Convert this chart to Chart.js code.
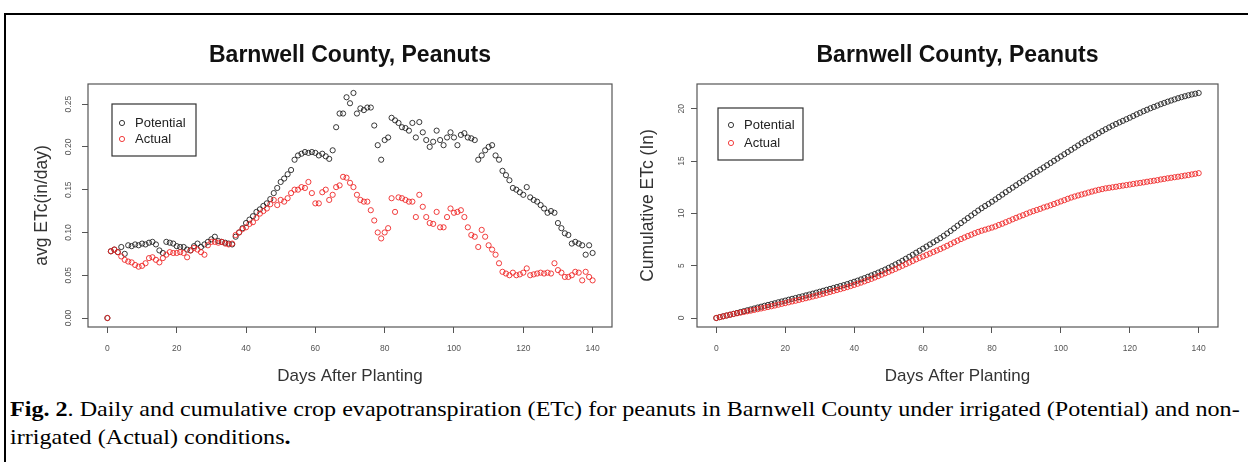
<!DOCTYPE html>
<html><head><meta charset="utf-8">
<script src="https://cdn.jsdelivr.net/npm/chart.js@4.4.1/dist/chart.umd.min.js"></script>
<style>
html,body{margin:0;padding:0;background:#fff;width:1248px;height:462px;overflow:hidden;position:relative;}
#frame{position:absolute;left:4px;top:13px;width:1260px;height:470px;border:2px solid #000;box-sizing:border-box;}
#c1{position:absolute;left:0;top:14px;width:625px;height:380px;}
#c2{position:absolute;left:630px;top:14px;width:618px;height:380px;}
#cap{position:absolute;left:10px;top:395px;font-family:"Liberation Serif","Times New Roman",serif;font-size:22px;line-height:28px;color:#000;white-space:nowrap;transform:scaleX(1.096);transform-origin:0 0;}
</style></head><body>
<div id="frame"></div>
<canvas id="c1" width="625" height="380"></canvas>
<canvas id="c2" width="618" height="380"></canvas>
<div id="cap"><b>Fig. 2</b>. Daily and cumulative crop evapotranspiration (ETc) for peanuts in Barnwell County under irrigated (Potential) and non-<br>irrigated (Actual) conditions<b>.</b></div>
<script>
// ---------- data ----------
const days = [0,1,2,3,4,5,6,7,8,9,10,11,12,13,14,15,16,17,18,19,20,21,22,23,24,25,26,27,28,29,30,31,32,33,34,35,36,37,38,39,40,41,42,43,44,45,46,47,48,49,50,51,52,53,54,55,56,57,58,59,60,61,62,63,64,65,66,67,68,69,70,71,72,73,74,75,76,77,78,79,80,81,82,83,84,85,86,87,88,89,90,91,92,93,94,95,96,97,98,99,100,101,102,103,104,105,106,107,108,109,110,111,112,113,114,115,116,117,118,119,120,121,122,123,124,125,126,127,128,129,130,131,132,133,134,135,136,137,138,139,140];

const dailyPotential = [0,0.078,0.080,0.077,0.083,0.075,0.085,0.084,0.086,0.085,0.087,0.086,0.088,0.089,0.086,0.079,0.076,0.089,0.088,0.087,
0.084,0.083,0.083,0.080,0.079,0.084,0.087,0.083,0.086,0.089,0.092,0.095,0.090,0.089,0.088,0.087,0.086,0.095,0.100,0.105,
0.111,0.115,0.119,0.124,0.127,0.131,0.134,0.139,0.146,0.152,0.159,0.163,0.168,0.173,0.185,0.190,0.192,0.194,0.193,0.194,
0.193,0.190,0.192,0.189,0.186,0.196,0.223,0.239,0.239,0.258,0.251,0.263,0.239,0.245,0.243,0.246,0.246,0.225,0.202,0.185,
0.208,0.211,0.234,0.231,0.228,0.223,0.222,0.219,0.228,0.211,0.229,0.217,0.208,0.200,0.206,0.219,0.208,0.202,0.211,0.217,
0.211,0.202,0.214,0.216,0.211,0.210,0.208,0.185,0.190,0.196,0.200,0.202,0.190,0.185,0.172,0.167,0.161,0.152,0.150,0.147,
0.144,0.153,0.141,0.138,0.136,0.132,0.128,0.123,0.125,0.123,0.111,0.105,0.099,0.097,0.087,0.089,0.087,0.085,0.074,0.085,0.076];

const dailyActual = [0,0.078,0.080,0.077,0.072,0.068,0.066,0.065,0.062,0.060,0.061,0.064,0.070,0.071,0.068,0.065,0.070,0.074,0.077,0.076,
0.076,0.077,0.076,0.071,0.079,0.082,0.080,0.077,0.074,0.085,0.089,0.089,0.088,0.089,0.087,0.086,0.087,0.097,0.100,0.104,
0.106,0.110,0.112,0.117,0.122,0.125,0.128,0.133,0.138,0.132,0.138,0.136,0.140,0.146,0.150,0.150,0.153,0.152,0.159,0.146,
0.134,0.134,0.147,0.150,0.138,0.144,0.153,0.155,0.165,0.164,0.158,0.153,0.144,0.138,0.136,0.136,0.126,0.114,0.100,0.093,
0.100,0.105,0.140,0.124,0.141,0.140,0.138,0.136,0.136,0.118,0.144,0.130,0.118,0.111,0.110,0.124,0.106,0.106,0.118,0.128,
0.123,0.124,0.126,0.118,0.106,0.097,0.095,0.083,0.103,0.095,0.085,0.080,0.074,0.064,0.054,0.052,0.050,0.053,0.050,0.051,
0.053,0.058,0.050,0.051,0.052,0.053,0.052,0.053,0.052,0.064,0.056,0.053,0.048,0.048,0.050,0.054,0.053,0.044,0.054,0.048,0.044];

const cumPotential = [0.00,0.08,0.16,0.24,0.32,0.40,0.48,0.57,0.65,0.74,0.82,0.91,1.00,1.08,1.17,1.25,1.33,1.41,1.50,1.58,
1.66,1.75,1.83,1.91,1.99,2.07,2.16,2.24,2.33,2.42,2.51,2.60,2.69,2.78,2.87,2.96,3.05,3.14,3.24,3.35,
3.46,3.57,3.69,3.81,3.94,4.07,4.20,4.34,4.48,4.63,4.79,4.95,5.12,5.29,5.47,5.66,5.85,6.04,6.24,6.43,
6.63,6.83,7.03,7.23,7.43,7.63,7.85,8.08,8.32,8.57,8.82,9.07,9.31,9.55,9.79,10.03,10.27,10.49,10.70,10.90,
11.11,11.33,11.56,11.79,12.02,12.24,12.46,12.68,12.90,13.12,13.34,13.56,13.77,13.97,14.18,14.39,14.60,14.81,15.02,15.23,
15.44,15.65,15.86,16.07,16.28,16.49,16.70,16.89,17.08,17.27,17.47,17.67,17.86,18.04,18.21,18.38,18.54,18.69,18.84,18.99,
19.14,19.30,19.46,19.61,19.76,19.90,20.04,20.17,20.30,20.43,20.55,20.67,20.78,20.89,21.00,21.10,21.19,21.28,21.36,21.43,21.50];

const cumActual = [0.00,0.08,0.16,0.24,0.31,0.38,0.45,0.51,0.58,0.64,0.70,0.77,0.84,0.91,0.98,1.05,1.12,1.19,1.27,1.35,
1.42,1.50,1.58,1.65,1.73,1.81,1.89,1.97,2.05,2.13,2.22,2.31,2.40,2.49,2.58,2.67,2.76,2.85,2.95,3.05,
3.16,3.27,3.38,3.50,3.62,3.74,3.87,4.00,4.14,4.27,4.41,4.55,4.69,4.84,4.99,5.14,5.29,5.44,5.60,5.75,
5.88,6.02,6.16,6.31,6.45,6.59,6.74,6.90,7.06,7.23,7.39,7.54,7.69,7.83,7.96,8.10,8.23,8.34,8.44,8.54,
8.64,8.75,8.89,9.01,9.15,9.29,9.43,9.57,9.70,9.82,9.96,10.09,10.21,10.32,10.43,10.56,10.66,10.77,10.89,11.02,
11.14,11.26,11.39,11.51,11.61,11.71,11.80,11.89,11.99,12.08,12.17,12.25,12.32,12.39,12.44,12.49,12.54,12.60,12.65,12.70,
12.75,12.81,12.86,12.91,12.96,13.02,13.07,13.12,13.17,13.24,13.29,13.35,13.40,13.45,13.50,13.55,13.61,13.66,13.72,13.78,13.84];

const xTicks = [0,20,40,60,80,100,120,140];
const xTickLabels = ["0","20","40","60","80","100","120","140"];
const yTicksDaily = [0,0.05,0.10,0.15,0.20,0.25];
const yTickLabelsDaily = ["0.00","0.05","0.10","0.15","0.20","0.25"];
const yTicksCum = [0,5,10,15,20];
const yTickLabelsCum = ["0","5","10","15","20"];
const seriesNames = ["Potential","Actual"];
const titleText = "Barnwell County, Peanuts";

// ---------- styling ----------
const FONT = '"Liberation Sans", Arial, Helvetica, sans-serif';
const BLACK = 'rgba(25,25,25,0.85)';
const RED = 'rgba(238,30,30,0.85)';
const AXIS = '#555';

const framePlugin = {
  id: 'rframe',
  afterDraw(chart) {
    const {ctx, chartArea: a} = chart;
    ctx.save();
    ctx.strokeStyle = AXIS; ctx.lineWidth = 1.2;
    ctx.strokeRect(a.left, a.top, a.right - a.left, a.bottom - a.top);
    ctx.restore();
  }
};

const legendPlugin = {
  id: 'rlegend',
  afterDatasetsDraw(chart, args, o) {
    const {ctx, chartArea: a} = chart;
    const x = a.left + o.dx, y = a.top + o.dy;
    ctx.save();
    ctx.strokeStyle = '#333'; ctx.lineWidth = 1.2;
    ctx.strokeRect(x, y, o.w, o.h);
    ctx.font = '13px ' + FONT;
    ctx.textBaseline = 'middle';
    ctx.textAlign = 'left';
    o.order.forEach((di, k) => {
      const ds = chart.data.datasets[di];
      const cy = y + o.first + k * o.step;
      ctx.beginPath();
      ctx.arc(x + o.cx, cy, 2.6, 0, Math.PI * 2);
      ctx.strokeStyle = ds.borderColor; ctx.lineWidth = 1;
      ctx.stroke();
      ctx.fillStyle = '#222';
      ctx.fillText(ds.label, x + o.tx, cy + 0.5);
    });
    ctx.restore();
  }
};

function makeChart(id, pot, act, yMin, yMax, yT, yL, yTitle, yWidth, yTitlePad, padRight, leg) {
  return new Chart(document.getElementById(id), {
    type: 'line',
    data: {
      labels: days,
      datasets: [
        {label: seriesNames[0], data: pot, borderColor: BLACK, backgroundColor: 'rgba(0,0,0,0)', showLine: false,
         pointRadius: 2.6, pointBorderWidth: 1, pointBackgroundColor: 'rgba(0,0,0,0)', pointBorderColor: BLACK, order: 1},
        {label: seriesNames[1], data: act, borderColor: RED, backgroundColor: 'rgba(0,0,0,0)', showLine: false,
         pointRadius: 2.6, pointBorderWidth: 1, pointBackgroundColor: 'rgba(0,0,0,0)', pointBorderColor: RED, order: 0}
      ]
    },
    options: {
      responsive: false, animation: false, devicePixelRatio: 1,
      layout: {padding: {left: 0, right: padRight, top: 0, bottom: 0}},
      plugins: {
        legend: {display: false}, tooltip: {enabled: false},
        title: {display: true, text: titleText, color: '#111', fullSize: false,
          font: {family: FONT, size: 23, weight: 'bold', lineHeight: 1.2},
          padding: {top: 28, bottom: 14.4}},
        rlegend: leg
      },
      scales: {
        x: {
          type: 'linear', min: -5.6, max: 145.6,
          afterBuildTicks: s => { s.ticks = xTicks.map(v => ({value: v})); },
          afterFit: s => { s.height = 67; },
          grid: {display: true, drawOnChartArea: false, drawTicks: true, tickLength: 6, color: AXIS, lineWidth: 1},
          border: {display: false},
          ticks: {font: {family: FONT, size: 8.5}, color: '#555', padding: 11, minRotation: 0, maxRotation: 0,
            callback: (v, i) => xTickLabels[i]},
          title: {display: true, text: 'Days After Planting', color: '#333',
            font: {family: FONT, size: 17, lineHeight: 1.2}, padding: {top: 0, bottom: 7}}
        },
        y: {
          type: 'linear', min: yMin, max: yMax,
          afterBuildTicks: s => { s.ticks = yT.map(v => ({value: v})); },
          afterFit: s => { s.width = yWidth; },
          grid: {display: true, drawOnChartArea: false, drawTicks: true, tickLength: 6, color: AXIS, lineWidth: 1},
          border: {display: false},
          ticks: {font: {family: FONT, size: 8.5}, color: '#555', padding: 5, minRotation: 90, maxRotation: 90,
            crossAlign: 'center', callback: (v, i) => yL[i]},
          title: {display: true, text: yTitle, color: '#333',
            font: {family: FONT, size: 17.5, lineHeight: 1.2}, padding: {top: yTitlePad, bottom: 0}}
        }
      }
    },
    plugins: [framePlugin, legendPlugin]
  });
}

makeChart('c1', dailyPotential, dailyActual, -0.0105, 0.2735, yTicksDaily, yTickLabelsDaily,
  'avg ETc(in/day)', 88, 32, 13,
  {dx: 24, dy: 20, w: 84, h: 52, cx: 10, tx: 23, first: 19, step: 16, order: [0, 1]});
makeChart('c2', cumPotential, cumActual, -0.86, 22.36, yTicksCum, yTickLabelsCum,
  'Cumulative ETc (In)', 67, 8, 30,
  {dx: 21, dy: 24, w: 85, h: 52, cx: 13, tx: 26, first: 17, step: 18, order: [0, 1]});
</script>
</body></html>
